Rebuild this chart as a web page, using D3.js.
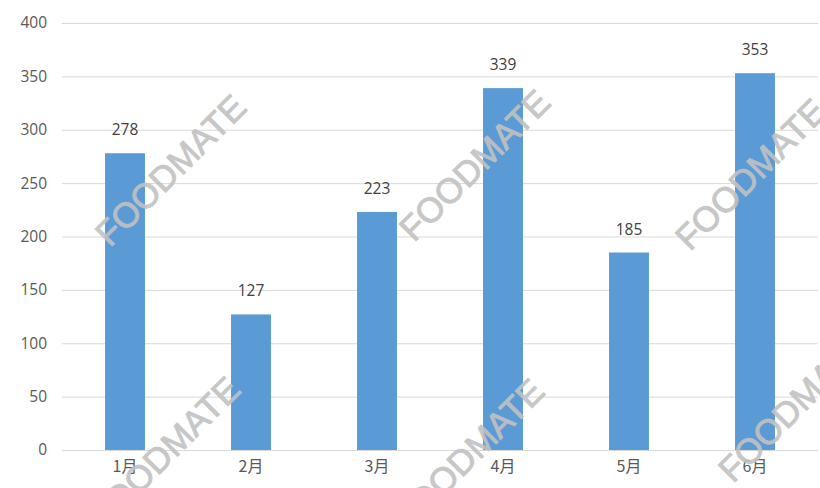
<!DOCTYPE html>
<html>
<head>
<meta charset="utf-8">
<script src="https://cdn.jsdelivr.net/npm/d3@7"></script>
<style>
  body { margin: 0; background: #fff; }
  svg { display: block; }
</style>
</head>
<body>
<div id="chart"></div>
<script>
const months = ['1月', '2月', '3月', '4月', '5月', '6月']
const values = [278, 127, 223, 339, 185, 353]
const yTicks = [0, 50, 100, 150, 200, 250, 300, 350, 400]
const watermarkText = 'FOODMATE'
// start points of the tiled watermark, left end of the baseline
const watermarkSpots = [[110, 248], [414, 243], [690, 252], [104, 530], [408, 532], [733, 484]]

const width = 820
const height = 488
const margin = { top: 23, right: 2, bottom: 38, left: 62 }

const svg = d3.select('#chart').append('svg').attr('width', width).attr('height', height)

const x = d3.scaleBand()
  .domain(months)
  .range([margin.left, width - margin.right])
  .paddingInner(0.683)
  .paddingOuter(0.3415)

const y = d3.scaleLinear()
  .domain([0, 400])
  .range([height - margin.bottom, margin.top])

// gridlines + y labels
const yAxis = svg.append('g')
  .attr('transform', `translate(${margin.left},0)`)
  .call(d3.axisLeft(y).tickValues(yTicks).tickSize(-(width - margin.left - margin.right)).tickPadding(15))

yAxis.select('.domain').remove()
yAxis.selectAll('.tick line').attr('stroke', '#d9d9d9').attr('stroke-width', 1)
yAxis.selectAll('.tick text')
  .attr('fill', '#595959')
  .attr('font-family', '"Open Sans", sans-serif')
  .attr('font-size', 15.5)

// bars
svg.append('g')
  .attr('fill', '#5b9bd5')
  .selectAll('rect')
  .data(values)
  .join('rect')
  .attr('x', (d, i) => x(months[i]))
  .attr('y', d => y(d))
  .attr('width', x.bandwidth())
  .attr('height', d => y(0) - y(d))

// value labels
svg.append('g')
  .selectAll('text')
  .data(values)
  .join('text')
  .attr('x', (d, i) => x(months[i]) + x.bandwidth() / 2)
  .attr('y', d => y(d) - 18)
  .attr('text-anchor', 'middle')
  .attr('fill', '#404040')
  .attr('font-family', '"Open Sans", sans-serif')
  .attr('font-size', 15.5)
  .text(d => d)

// x labels
const xAxis = svg.append('g')
  .attr('transform', `translate(0,${y(0)})`)
  .call(d3.axisBottom(x).tickSize(0).tickPadding(11))

xAxis.select('.domain').remove()
xAxis.selectAll('.tick text')
  .attr('fill', '#595959')
  .attr('font-family', '"Noto Sans CJK SC", sans-serif')
  .attr('font-size', 16)

// watermark
svg.append('g')
  .selectAll('text')
  .data(watermarkSpots)
  .join('text')
  .attr('transform', d => `translate(${d[0]},${d[1]}) rotate(-45)`)
  .attr('fill', '#c2c2c2')
  .attr('stroke', '#c2c2c2')
  .attr('stroke-width', 0.9)
  .attr('opacity', 0.9)
  .attr('font-family', '"Liberation Sans", Arial, sans-serif')
  .attr('font-size', 35)
  .text(watermarkText)
</script>
</body>
</html>
